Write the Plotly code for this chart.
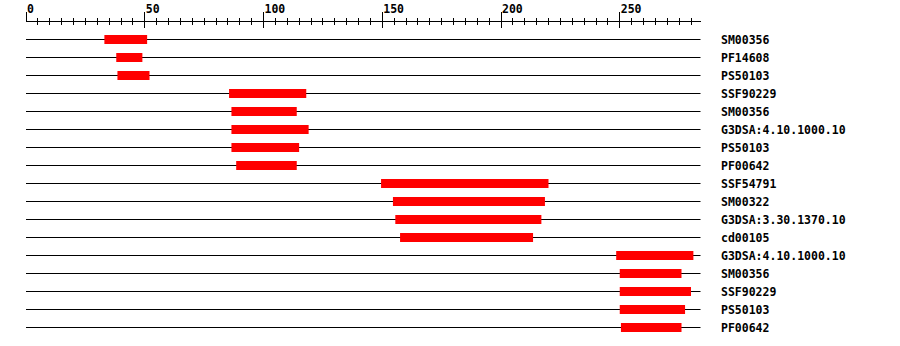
import plotly.graph_objects as go

seq_length = 284
labels = ["SM00356", "PF14608", "PS50103", "SSF90229", "SM00356",
          "G3DSA:4.10.1000.10", "PS50103", "PF00642", "SSF54791", "SM00322",
          "G3DSA:3.30.1370.10", "cd00105", "G3DSA:4.10.1000.10", "SM00356",
          "SSF90229", "PS50103", "PF00642"]
starts = [33, 38, 38.5, 85.5, 86.5, 86.5, 86.5, 88.5, 149.5, 154.5,
          155.5, 157.5, 248.5, 250, 250, 250, 250.5]
ends = [51, 49, 52, 118, 114, 119, 115, 114, 220, 218.5,
        217, 213.5, 281, 276, 280, 277.5, 276]
tick_values = [0, 50, 100, 150, 200, 250]

rows = list(range(len(labels)))
font = dict(family="DejaVu Sans Mono", size=11.5, color="black", weight="bold")

fig = go.Figure()

# thin black sequence lines (as 1px bars so the red domains sit above them)
fig.add_trace(go.Bar(
    x=[seq_length] * len(rows), base=[0] * len(rows), y=rows,
    orientation="h", width=1 / 18, marker=dict(color="black", line=dict(width=0)),
    hoverinfo="skip", showlegend=False, xaxis="x2"))

fig.add_trace(go.Bar(
    x=[e - s for s, e in zip(starts, ends)], base=starts, y=rows,
    orientation="h", width=9 / 18, marker=dict(color="#FF0000", line=dict(width=0)),
    showlegend=False, xaxis="x2"))

scale = 2.375
x_range = [0, 675 / scale]
fig.update_layout(
    width=900, height=346,
    margin=dict(l=26, r=199, t=22, b=6),
    paper_bgcolor="white", plot_bgcolor="white",
    font=font,
    barmode="overlay",
    xaxis=dict(range=x_range, side="top", showgrid=False, zeroline=False,
               automargin=False,
               showline=True, linecolor="black", linewidth=1,
               ticks="outside", ticklen=9, tickwidth=1, tickcolor="black",
               tickvals=tick_values, ticklabelposition="outside right",
               ticklabelstandoff=3,
               tickfont=font,
               minor=dict(dtick=5, tick0=0, ticks="outside", ticklen=3,
                          tickwidth=1, tickcolor="black", showgrid=False)),
    xaxis2=dict(range=x_range, side="top", overlaying="x", anchor="y",
                automargin=False,
                showgrid=False, zeroline=False, showline=False,
                ticks="inside", ticklen=6, tickwidth=1, tickcolor="black",
                tickvals=tick_values, showticklabels=False,
                minor=dict(dtick=5, tick0=0, ticks="inside", ticklen=3,
                           tickwidth=1, tickcolor="black", showgrid=False)),
    yaxis=dict(range=[(340 - 39.5) / 18, (22 - 39.5) / 18], side="right",
               automargin=False,
               showgrid=False, zeroline=False, showline=False,
               tickvals=rows, ticktext=labels, ticks="",
               ticklabelstandoff=19, tickfont=font),
)
fig.add_trace(go.Scatter(x=[None], y=[None], xaxis="x", showlegend=False))

fig.write_html("out.html")
